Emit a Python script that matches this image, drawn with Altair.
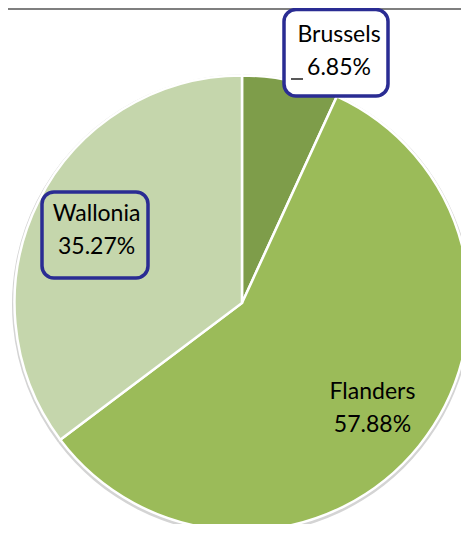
import altair as alt
import pandas as pd

regions = ["Brussels", "Flanders", "Wallonia"]
shares = [6.85, 57.88, 35.27]
colors = ["#7E9D4A", "#9BBB59", "#C5D6AC"]

df = pd.DataFrame({"region": regions, "share": shares, "idx": list(range(len(regions)))})

W, H = 453, 512
CX, CY = 234, 291
R = 227.5
NAVY = "#2A2C93"
FONT = "Lato"
LH = 33

base = alt.Chart(df)

shadow = base.mark_arc(radius=R + 2.5, fill="#d4d4d4", stroke=None).encode(
    theta=alt.Theta("share:Q", stack=True),
    order=alt.Order("idx:Q"),
    x=alt.value(CX), y=alt.value(CY + 1.5),
)

pie = base.mark_arc(radius=R, stroke="white", strokeWidth=2.5).encode(
    theta=alt.Theta("share:Q", stack=True),
    order=alt.Order("idx:Q"),
    color=alt.Color("region:N", scale=alt.Scale(domain=regions, range=colors), legend=None),
    x=alt.value(CX), y=alt.value(CY),
)

lab = base.transform_joinaggregate(total="sum(share)").transform_window(
    cum="sum(share)", sort=[alt.SortField("idx")], frame=[None, 0]
).transform_calculate(
    mid="(datum.cum - datum.share / 2) / datum.total * 2 * PI",
    label="datum.region + '\\n' + format(datum.share, '.2f') + '%'",
)

def text_layer(name, radius, dx, dy):
    return lab.transform_filter(alt.datum.region == name).mark_text(
        font=FONT, fontSize=23, lineBreak="\n", lineHeight=LH, color="black",
        align="center", baseline="middle", radius=radius, dx=dx, dy=dy - LH / 2,
    ).encode(
        theta=alt.Theta("mid:Q", scale=None),
        text="label:N",
        x=alt.value(CX), y=alt.value(CY),
    )

top_line = base.mark_rule(color="#7F7F7F", strokeWidth=2).encode(
    x=alt.value(-8), x2=alt.value(W), y=alt.value(-3)
).transform_filter(alt.datum.idx == 0)

box_b = base.mark_rect(fill="white", stroke=NAVY, strokeWidth=3.5, cornerRadius=12).encode(
    x=alt.value(276), x2=alt.value(380), y=alt.value(-2.5), y2=alt.value(84)
).transform_filter(alt.datum.idx == 0)

box_w = base.mark_rect(fill=None, fillOpacity=0, stroke=NAVY, strokeWidth=3.5, cornerRadius=12).encode(
    x=alt.value(34), x2=alt.value(140), y=alt.value(180), y2=alt.value(266)
).transform_filter(alt.datum.idx == 0)

stub = base.mark_rule(color="#222222", strokeWidth=1.5).encode(
    x=alt.value(283), x2=alt.value(295), y=alt.value(67)
).transform_filter(alt.datum.idx == 0)

chart = alt.layer(
    top_line, shadow, pie, box_b, box_w, stub,
    text_layer("Brussels", 260, 41.5, 2.5),
    text_layer("Flanders", 167.5, 0, 0),
    text_layer("Wallonia", 162.5, 0, 0),
).properties(
    width=W, height=H,
    autosize=alt.AutoSizeParams(type="none"),
    padding={"left": 0, "top": 4, "right": 0, "bottom": 0},
).configure_view(stroke=None)

chart.save("out.html", embed_options={"renderer": "svg", "actions": False})
